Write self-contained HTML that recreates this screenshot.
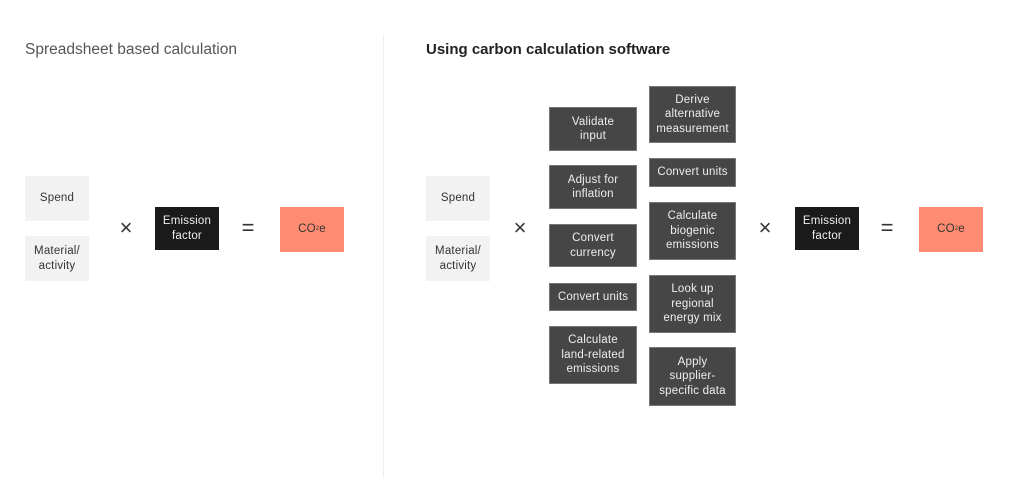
<!DOCTYPE html>
<html><head><style>
body{margin:0;width:1023px;height:492px;background:#fff;position:relative;overflow:hidden;font-family:"Liberation Sans",sans-serif;}
.b{position:absolute;display:flex;align-items:center;justify-content:center;text-align:center;font-size:11.5px;line-height:14.5px;box-sizing:border-box;letter-spacing:0.2px;}
.l{background:#f2f2f2;color:#333;}
.d{background:#464646;color:#eee;border:1px solid #777;}
.k{background:#1a1a1a;color:#eee;}
.o{background:#ff8c72;color:#333;}
.op{position:absolute;font-size:22px;font-weight:300;color:#333;transform:translate(-50%,-50%);}
.t{position:absolute;top:41px;}
</style></head><body>
<div class="t" style="left:25px;color:#555;font-size:15.5px;">Spreadsheet based calculation</div>
<div class="t" style="left:426px;color:#222;font-weight:bold;font-size:15px;">Using carbon calculation software</div>
<div style="position:absolute;left:383px;top:35px;width:1px;height:443px;background:#eee;"></div>

<div class="b l" style="left:25px;top:176px;width:64px;height:45px;">Spend</div>
<div class="b l" style="left:25px;top:236px;width:64px;height:45px;">Material/<br>activity</div>
<div class="op" style="left:126px;top:228px;">×</div>
<div class="b k" style="left:155px;top:207px;width:64px;height:43px;">Emission<br>factor</div>
<div class="op" style="left:248px;top:228px;">=</div>
<div class="b o" style="left:280px;top:207px;width:64px;height:45px;">CO<sub style="font-size:6px">2</sub>e</div>

<div class="b l" style="left:426px;top:176px;width:64px;height:45px;">Spend</div>
<div class="b l" style="left:426px;top:236px;width:64px;height:45px;">Material/<br>activity</div>
<div class="op" style="left:520px;top:228px;">×</div>

<div class="b d" style="left:549px;top:107px;width:88px;height:44px;">Validate<br>input</div>
<div class="b d" style="left:549px;top:165px;width:88px;height:44px;">Adjust for<br>inflation</div>
<div class="b d" style="left:549px;top:224px;width:88px;height:43px;">Convert<br>currency</div>
<div class="b d" style="left:549px;top:283px;width:88px;height:28px;">Convert units</div>
<div class="b d" style="left:549px;top:326px;width:88px;height:58px;">Calculate<br>land-related<br>emissions</div>

<div class="b d" style="left:649px;top:86px;width:87px;height:57px;">Derive<br>alternative<br>measurement</div>
<div class="b d" style="left:649px;top:158px;width:87px;height:29px;">Convert units</div>
<div class="b d" style="left:649px;top:202px;width:87px;height:58px;">Calculate<br>biogenic<br>emissions</div>
<div class="b d" style="left:649px;top:275px;width:87px;height:58px;">Look up<br>regional<br>energy mix</div>
<div class="b d" style="left:649px;top:347px;width:87px;height:59px;">Apply<br>supplier-<br>specific data</div>

<div class="op" style="left:765px;top:228px;">×</div>
<div class="b k" style="left:795px;top:207px;width:64px;height:43px;">Emission<br>factor</div>
<div class="op" style="left:887px;top:228px;">=</div>
<div class="b o" style="left:919px;top:207px;width:64px;height:45px;">CO<sub style="font-size:6px">2</sub>e</div>
</body></html>
